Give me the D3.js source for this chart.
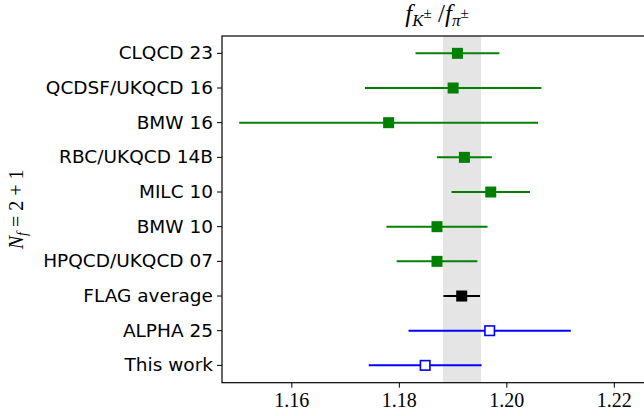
<!DOCTYPE html>
<html>
<head>
<meta charset="utf-8">
<script src="https://cdn.jsdelivr.net/npm/d3@7"></script>
<style>
  body { margin: 0; background: #fff; }
  .ylab text { font-family: "DejaVu Sans", sans-serif; font-size: 18.5px; fill: #000; }
  .xlab text { font-family: "Liberation Serif", serif; font-size: 20px; fill: #000; }
  .math { font-family: "Liberation Serif", serif; font-style: italic; fill: #000; }
</style>
</head>
<body>
<script>
// rows, top to bottom
var labels = ["CLQCD 23", "QCDSF/UKQCD 16", "BMW 16", "RBC/UKQCD 14B", "MILC 10",
              "BMW 10", "HPQCD/UKQCD 07", "FLAG average", "ALPHA 25", "This work"];
var values = [1.1909, 1.1901, 1.1781, 1.1922, 1.1971, 1.1871, 1.1871, 1.1917, 1.1969, 1.1849];
var errors = [0.0078, 0.0164, 0.0278, 0.0051, 0.0073, 0.0094, 0.0075, 0.0034, 0.0151, 0.0105];
var groups = ["lat", "lat", "lat", "lat", "lat", "lat", "lat", "flag", "new", "new"];
var xTicks = [1.16, 1.18, 1.20, 1.22];
var flagBand = [1.1882, 1.1953];

var width = 644, height = 416;
var margin = {left: 222, top: 36, right: -8, bottom: 33.3};
var colors = {lat: "#008000", flag: "#000000", new: "#0000ff"};

var svg = d3.select("body").append("svg")
    .attr("width", width)
    .attr("height", height);

var x = d3.scaleLinear()
    .domain([1.1471, 1.2271])
    .range([margin.left, width - margin.right]);

var y = d3.scaleBand()
    .domain(labels)
    .range([margin.top, height - margin.bottom])
    .padding(0);

var cy = function(d) { return y(d) + y.bandwidth() / 2; };

// FLAG band
svg.append("rect")
    .attr("x", x(flagBand[0]))
    .attr("y", margin.top)
    .attr("width", x(flagBand[1]) - x(flagBand[0]))
    .attr("height", height - margin.bottom - margin.top)
    .attr("fill", "#e5e5e5");

var rows = labels.map(function(l, i) {
    return {label: l, v: values[i], e: errors[i], g: groups[i]};
});

// error bars
svg.selectAll("line.err").data(rows).enter().append("line")
    .attr("class", "err")
    .attr("x1", function(d) { return x(d.v - d.e); })
    .attr("x2", function(d) { return x(d.v + d.e); })
    .attr("y1", function(d) { return cy(d.label); })
    .attr("y2", function(d) { return cy(d.label); })
    .attr("stroke", function(d) { return colors[d.g]; })
    .attr("stroke-width", 2);

// markers
var s = 11;
svg.selectAll("rect.mk").data(rows.filter(function(d) { return d.g != "new"; })).enter().append("rect")
    .attr("class", "mk")
    .attr("x", function(d) { return x(d.v) - s / 2; })
    .attr("y", function(d) { return cy(d.label) - s / 2; })
    .attr("width", s).attr("height", s)
    .attr("fill", function(d) { return colors[d.g]; });

var so = 9.5;
svg.selectAll("rect.open").data(rows.filter(function(d) { return d.g == "new"; })).enter().append("rect")
    .attr("class", "open")
    .attr("x", function(d) { return x(d.v) - so / 2; })
    .attr("y", function(d) { return cy(d.label) - so / 2; })
    .attr("width", so).attr("height", so)
    .attr("fill", "#fff")
    .attr("stroke", function(d) { return colors[d.g]; })
    .attr("stroke-width", 1.6);

// axes
var yAxis = d3.axisLeft(y).tickSize(5).tickPadding(4);
svg.append("g")
    .attr("class", "ylab")
    .attr("transform", "translate(" + margin.left + ",0)")
    .call(yAxis)
    .call(function(g) { g.select(".domain").remove(); });

var xAxis = d3.axisBottom(x).tickValues(xTicks).tickSize(5).tickPadding(5)
    .tickFormat(d3.format(".2f"));
svg.append("g")
    .attr("class", "xlab")
    .attr("transform", "translate(0," + (height - margin.bottom) + ")")
    .call(xAxis)
    .call(function(g) { g.select(".domain").remove(); });

svg.selectAll(".tick line").attr("stroke", "#000").attr("stroke-width", 1);

// frame (right side falls outside the picture)
svg.append("rect")
    .attr("x", margin.left)
    .attr("y", margin.top)
    .attr("width", x.range()[1] - margin.left)
    .attr("height", height - margin.bottom - margin.top)
    .attr("fill", "none")
    .attr("stroke", "#000")
    .attr("stroke-width", 1.2);

// title f_{K±}/f_{π±}
var t = svg.append("text")
    .attr("class", "math")
    .attr("x", 437)
    .attr("y", 22)
    .attr("text-anchor", "middle")
    .attr("font-size", 25);
t.append("tspan").text("f");
t.append("tspan").attr("font-size", 17).attr("dy", 4).text("K");
t.append("tspan").attr("font-size", 15).attr("font-style", "normal").attr("dy", -8).text("±");
t.append("tspan").attr("font-style", "normal").attr("dy", 4).text(" /");
t.append("tspan").text("f");
t.append("tspan").attr("font-size", 17).attr("dy", 4).text("π");
t.append("tspan").attr("font-size", 15).attr("font-style", "normal").attr("dy", -8).text("±");

// y label N_f = 2+1
var yl = svg.append("text")
    .attr("class", "math")
    .attr("transform", "translate(23," + ((margin.top + height - margin.bottom) / 2) + ") rotate(-90)")
    .attr("text-anchor", "middle")
    .attr("font-size", 20);
yl.append("tspan").text("N");
yl.append("tspan").attr("font-size", 14).attr("dy", 4).text("f");
yl.append("tspan").attr("font-style", "normal").attr("dy", -4).text(" = 2 + 1");
</script>
</body>
</html>
